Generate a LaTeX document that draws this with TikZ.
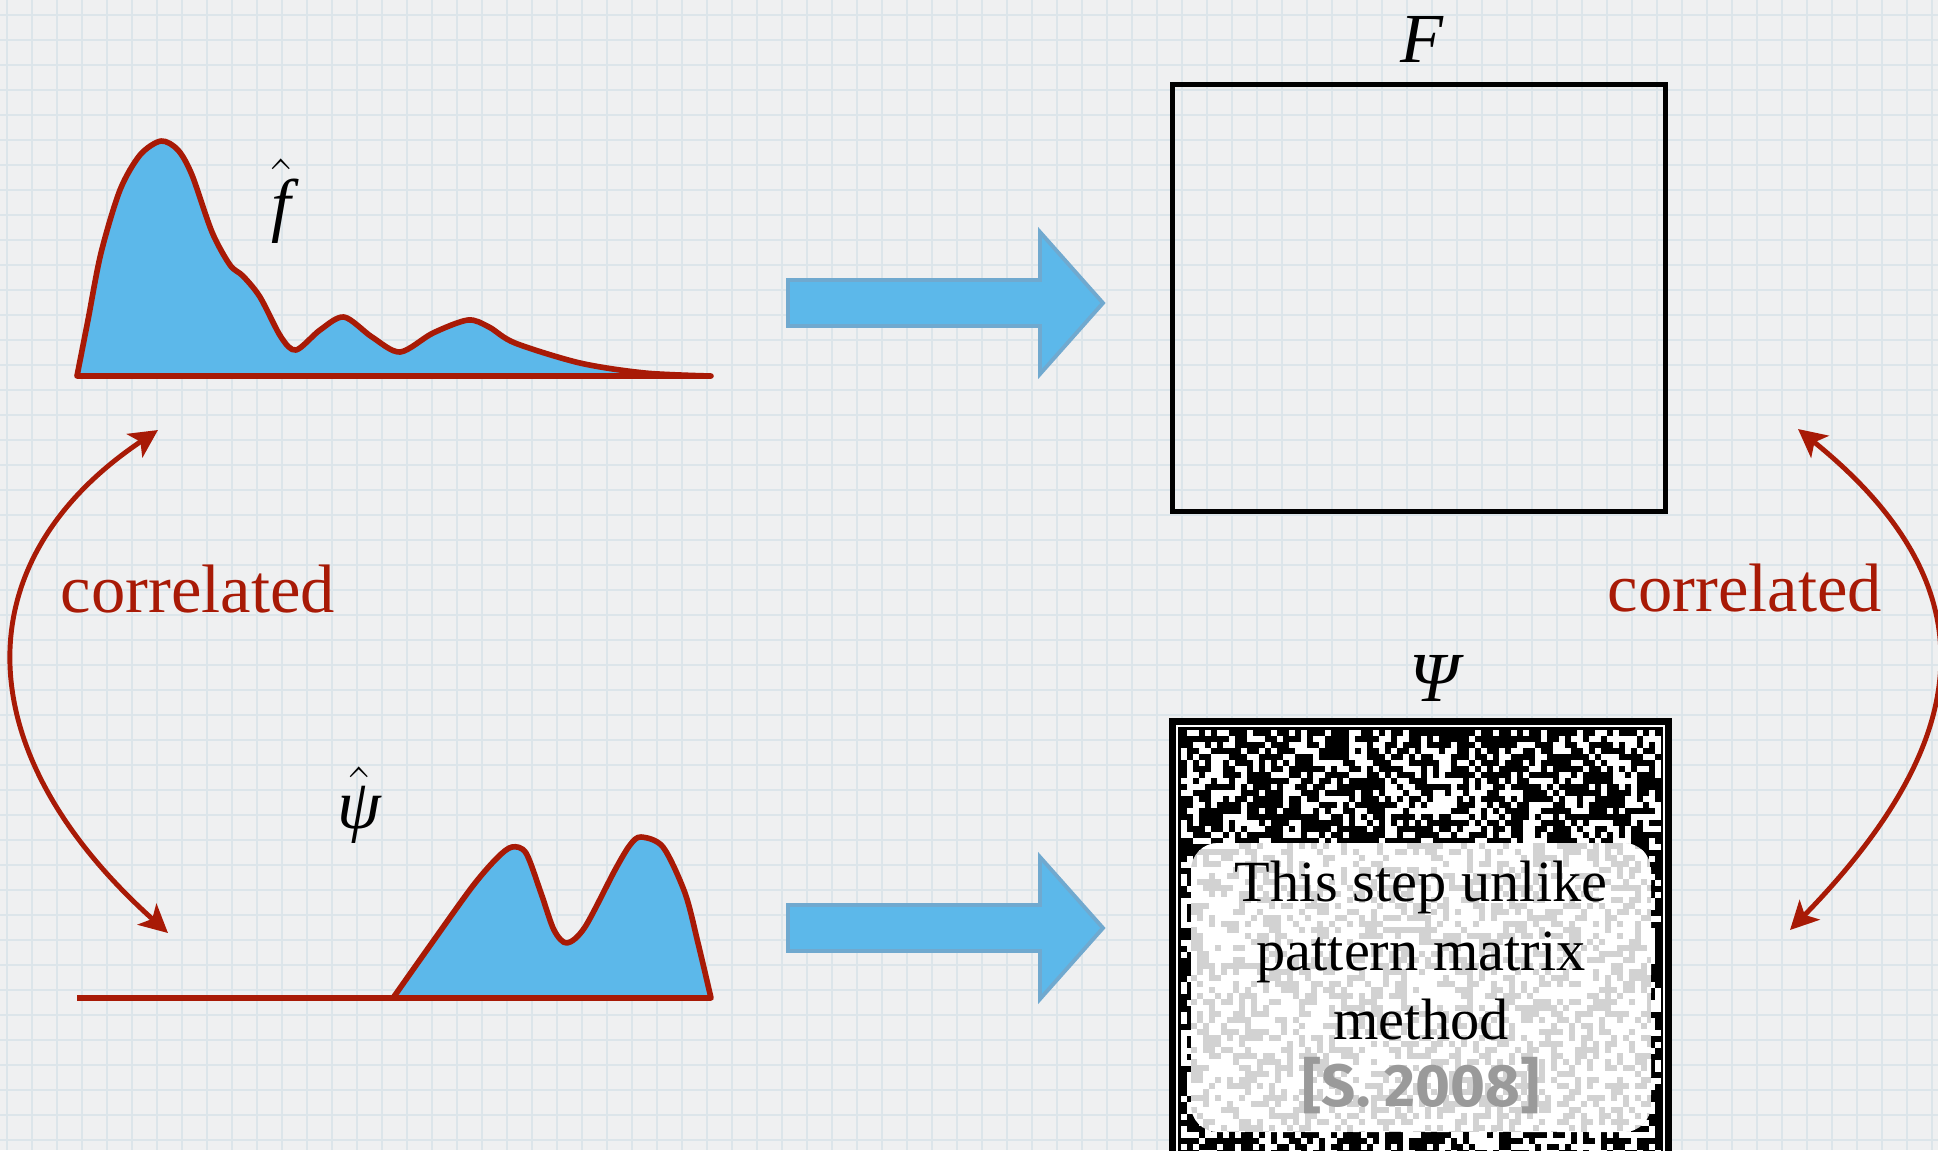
\documentclass[tikz,border=0pt]{standalone}
\usepackage{amsmath}
\usepackage{fontspec}
\setmainfont{Liberation Serif}
\newfontfamily\citefont{Fira Sans}
\usetikzlibrary{arrows.meta}
\definecolor{paper}{HTML}{EFF0F1}
\definecolor{gridline}{HTML}{DCE5EA}
\definecolor{sky}{HTML}{5CB8EA}
\definecolor{skyedge}{HTML}{70A9CF}
\definecolor{brick}{HTML}{A81A06}
\definecolor{citegray}{HTML}{9A9A9A}
\definecolor{speckle}{HTML}{D2D2D2}

\begin{document}
\begin{tikzpicture}[x=0.01cm,y=-0.01cm,
  curve/.style={draw=brick,line width=1.6pt,fill=sky,line join=round},
  axis/.style={draw=brick,line width=1.6pt},
  blockarrow/.style={fill=sky,draw=skyedge,line width=1.1pt},
  corr/.style={draw=brick,line width=1.4pt,>={Stealth[length=8pt,width=8pt,inset=2pt]},<->},
  lbl/.style={font=\fontsize{20}{24}\selectfont,inner sep=0pt,anchor=base}]
  \fill[paper] (0,0) rectangle (1938,1150);
  \useasboundingbox (0,0) rectangle (1938,1150);
  \foreach \gx in {7,32,...,1938}
    \draw[gridline,line width=0.5pt] (\gx,0) -- (\gx,1150);
  \foreach \gy in {15,40,...,1150}
    \draw[gridline,line width=0.5pt] (0,\gy) -- (1938,\gy);

  % spectra
  \filldraw[curve] plot[smooth,tension=0.5] coordinates {(77,376) (88,320) (101,253) (120,190) (140,155) (161,141)
    (178,150) (192,175) (212,232) (230,265) (243,276) (260,297) (281,337) (296,350) (320,330) (344,317)
    (372,337) (400,352) (433,333) (468,320) (489,327) (515,343) (580,363) (645,373) (711,376)} -- cycle;
  \node[lbl] (fhat) at (281,228) {$\hat{\textit{f}}$};
  \draw[axis] (77,998) -- (393,998);
  \filldraw[curve] plot[smooth,tension=0.5] coordinates {(393,998) (429,947) (472,887) (497,858) (512,847)
    (526,853) (541,893) (554,930) (567,943) (585,927) (615,870) (630,845) (641,837) (663,847) (685,893)
    (698,943) (711,998)} -- cycle;
  \node[lbl] (psihat) at (359,828) {$\hat{\textit{ψ}}$};

  % block arrows
  \foreach \ty in {303,928}
    \draw[blockarrow] (788,\ty-23) -- (1040,\ty-23) -- (1040,\ty-71) -- (1103,\ty)
      -- (1040,\ty+71) -- (1040,\ty+23) -- (788,\ty+23) -- cycle;

  % F
  \node[draw,line width=1.4pt,minimum width=4.92cm,minimum height=4.27cm,inner sep=0pt] (Fbox) at (1419,298) {};
  \node[lbl] (Flab) at (1422,62) {\textit{F}};

  % Psi, noisy
  \fill[black] (1169,718) rectangle (1672,1160);
  \pgfmathsetseed{2008}
  \foreach \i in {0,...,80}{
    \foreach \j in {0,...,72}{
      \pgfmathtruncatemacro\speck{rnd<0.4}
      \ifnum\speck=1 \fill[white] ({1181+6*\i},{730+6*\j}) rectangle ++(6,6);\fi
    }
  }
  \fill[black] (1661,718) rectangle (1672,1160);
  \draw[white,line width=0.6pt] (1177,726) rectangle (1664,1170);
  \begin{scope}
    \clip[rounded corners=0.27cm] (1191,843) rectangle (1651,1132);
    \fill[speckle] (1191,843) rectangle (1651,1132);
    \foreach \i in {0,...,76}{
      \foreach \j in {0,...,48}{
        \pgfmathtruncatemacro\speck{rnd<0.6}
        \ifnum\speck=1 \fill[white] ({1191+6*\i},{843+6*\j}) rectangle ++(6,6);\fi
      }
    }
  \end{scope}
  \node[lbl] (Psilab) at (1437,701) {\textit{Ψ}};
  \node[font=\fontsize{16.6}{19.6}\selectfont,align=center,inner sep=0pt,anchor=north] (note) at (1421,860)
    {This step unlike\\pattern matrix\\method};
  \node[font=\citefont\bfseries\fontsize{17}{20}\selectfont,text=citegray,inner sep=0pt,anchor=base] (cite)
    at (1421,1106) {[S. 2008]};

  % correlations
  \node[lbl,text=brick,font=\fontsize{19.5}{23}\selectfont] (corrL) at (198,612) {correlated};
  \node[lbl,text=brick,font=\fontsize{19.5}{23}\selectfont] (corrR) at (1745,611) {correlated};
  \coordinate (fL) at (158,430);
  \coordinate (psiL) at (168,933);
  \coordinate (FR) at (1798,429);
  \coordinate (PsiR) at (1790,930);
  \draw[corr] (fL) .. controls (-36,560) and (-36,750) .. (psiL);
  \draw[corr] (FR) .. controls (1985,580) and (1985,730) .. (PsiR);
\end{tikzpicture}
\end{document}
